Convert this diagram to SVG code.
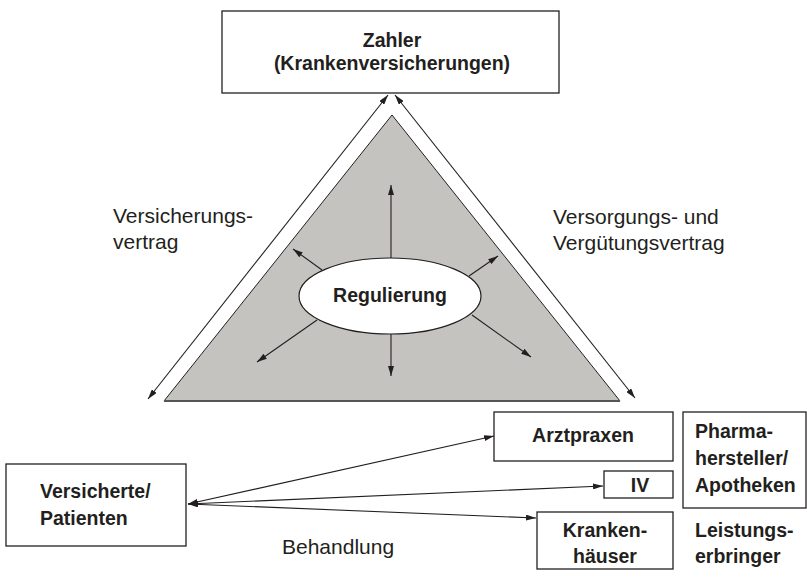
<svg xmlns="http://www.w3.org/2000/svg" width="807" height="582" viewBox="0 0 807 582">
<style>
.box{fill:#fff;stroke:#231f20;stroke-width:1.3}
.b{font-family:"Liberation Sans",Arial,sans-serif;font-weight:bold;font-size:19.5px;fill:#231f20}
.r{font-family:"Liberation Sans",Arial,sans-serif;font-size:21px;fill:#231f20}
.ln{stroke:#231f20;stroke-width:1.1;fill:none}
</style>
<defs>
<marker id="ah" viewBox="0 0 10 6" refX="10" refY="3" markerWidth="10" markerHeight="6" markerUnits="userSpaceOnUse" orient="auto-start-reverse">
<path d="M0,0 L10,3 L0,6 z" fill="#231f20"/>
</marker>
</defs>
<rect width="807" height="582" fill="#fff"/>
<g id="triangle">
<polygon points="392,115 620,401 164,401" fill="#c4c3c0" stroke="#231f20" stroke-width="1"/>
<line x1="164" y1="401" x2="620" y2="401" stroke="#555" stroke-width="2"/>
</g>
<g id="zahler">
<rect class="box" x="222" y="11" width="337" height="82"/>
<text class="b" x="392" y="47" text-anchor="middle">Zahler</text>
<text class="b" x="392" y="70" text-anchor="middle">(Krankenversicherungen)</text>
</g>
<g id="regulierung">
<ellipse cx="390" cy="296" rx="91" ry="38" fill="#fff" stroke="#231f20" stroke-width="1.2"/>
<text class="b" x="390" y="302" text-anchor="middle" font-size="20.5">Regulierung</text>
</g>
<g id="versicherte">
<rect class="box" x="6" y="464" width="180" height="82"/>
<text class="b" x="40" y="498">Versicherte/</text>
<text class="b" x="40" y="525">Patienten</text>
</g>
<g id="arztpraxen">
<rect class="box" x="494" y="412" width="179" height="49"/>
<text class="b" x="583" y="442" text-anchor="middle">Arztpraxen</text>
</g>
<g id="iv">
<rect class="box" x="604" y="471" width="69" height="27"/>
<text class="b" x="640" y="492" text-anchor="middle">IV</text>
</g>
<g id="krankenhaeuser">
<rect class="box" x="537" y="512" width="136" height="57"/>
<text class="b" x="605" y="537" text-anchor="middle">Kranken-</text>
<text class="b" x="605" y="563" text-anchor="middle">häuser</text>
</g>
<g id="pharma">
<rect class="box" x="683" y="412" width="123" height="96"/>
<text class="b" x="695" y="438">Pharma-</text>
<text class="b" x="695" y="465">hersteller/</text>
<text class="b" x="695" y="492">Apotheken</text>
</g>
<g id="leistungserbringer">
<text class="b" x="695" y="537">Leistungs-</text>
<text class="b" x="695" y="563">erbringer</text>
</g>
<g id="labels">
<text class="r" x="113" y="223">Versicherungs-</text>
<text class="r" x="113" y="249">vertrag</text>
<text class="r" x="553" y="224">Versorgungs- und</text>
<text class="r" x="553" y="250">Vergütungsvertrag</text>
<text class="r" x="282" y="554">Behandlung</text>
</g>
<g id="connectors">
<line class="ln" x1="388" y1="95" x2="148" y2="399" marker-start="url(#ah)" marker-end="url(#ah)"/>
<line class="ln" x1="395" y1="95" x2="635" y2="398" marker-start="url(#ah)" marker-end="url(#ah)"/>
<line class="ln" x1="391" y1="258" x2="391" y2="185" marker-end="url(#ah)"/>
<line class="ln" x1="322" y1="270" x2="293" y2="249" marker-end="url(#ah)"/>
<line class="ln" x1="469" y1="276" x2="498" y2="256" marker-end="url(#ah)"/>
<line class="ln" x1="317" y1="320" x2="257" y2="362" marker-end="url(#ah)"/>
<line class="ln" x1="391" y1="334" x2="391" y2="376" marker-end="url(#ah)"/>
<line class="ln" x1="472" y1="315" x2="531" y2="357" marker-end="url(#ah)"/>
<line class="ln" x1="188" y1="504" x2="494" y2="436" marker-start="url(#ah)" marker-end="url(#ah)"/>
<line class="ln" x1="188" y1="504" x2="603" y2="486" marker-start="url(#ah)" marker-end="url(#ah)"/>
<line class="ln" x1="188" y1="504" x2="536" y2="518" marker-start="url(#ah)" marker-end="url(#ah)"/>
</g>
</svg>
